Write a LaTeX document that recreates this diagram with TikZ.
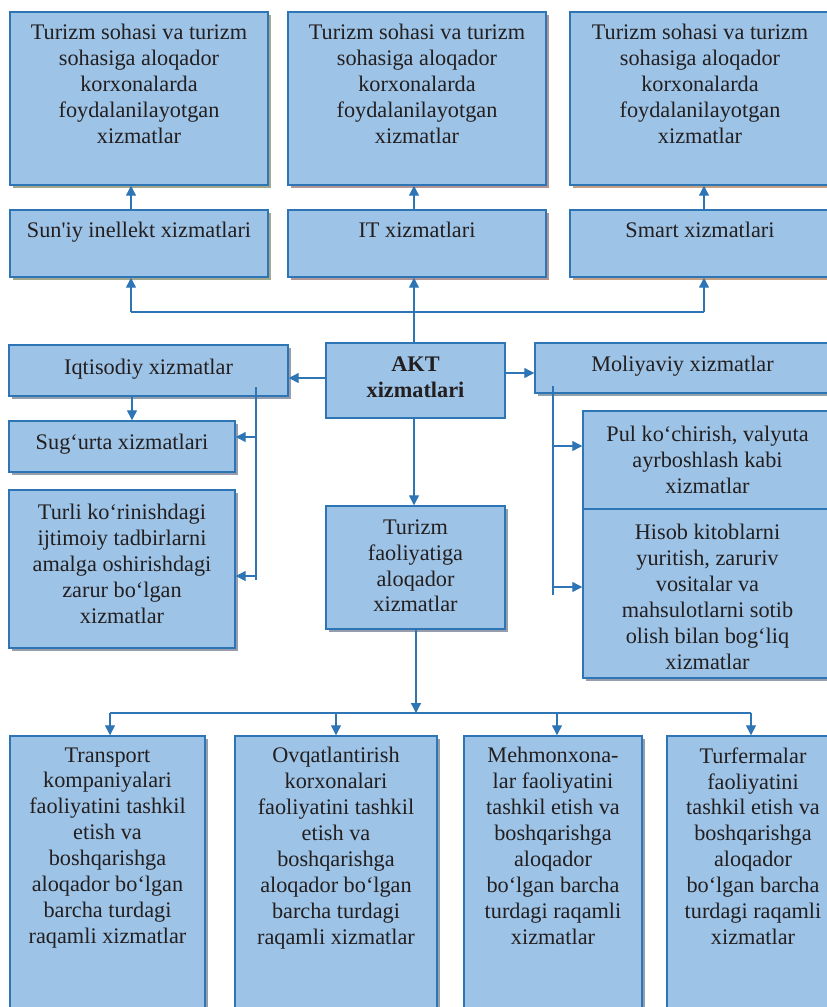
\documentclass[tikz,border=0pt]{standalone}
\usepackage{fontspec}
\setmainfont{Liberation Serif}[Ligatures=TeXOff]
\usetikzlibrary{arrows.meta,fit,shadows,calc}
\definecolor{boxfill}{HTML}{9DC3E6}
\definecolor{boxline}{HTML}{2E75B6}
\definecolor{txtc}{HTML}{231F20}
\definecolor{shOlive}{HTML}{A3A88C}
\definecolor{shRose}{HTML}{B39595}
\definecolor{shTan}{HTML}{C9A07F}
\definecolor{shGrey}{HTML}{969EAD}
\definecolor{shTeal}{HTML}{8FA3AD}
\tikzset{
  box/.style={draw=boxline, fill=boxfill, line width=1.1pt, inner sep=0pt, rectangle},
  sh/.style={general shadow={fill=#1, shadow xshift=2.4pt, shadow yshift=-2.6pt}},
  txt/.style={font=\fontsize{16.7pt}{19.4pt}\selectfont, text=txtc, align=center, inner sep=0pt, anchor=north},
  arr/.style={draw=boxline, line width=1pt, -{Triangle[length=7.5pt,width=7.5pt]}},
  ln/.style={draw=boxline, line width=1pt},
  thinln/.style={draw=boxline, line width=0.85pt},
}
\begin{document}
\begin{tikzpicture}[x=0.75pt,y=-0.75pt]
\useasboundingbox (0,0) rectangle (827,1007);
\clip (0,0) rectangle (827,1007);
% boxes
\node[box, sh=shOlive, fit={(10,12)(268,185)}] (b1) {};
\node[box, sh=shRose, fit={(288,12)(546,185)}] (b2) {};
\node[box, sh=shTan, fit={(570,12)(830,185)}] (b3) {};
\node[box, sh=shOlive, fit={(10,210)(268,277)}] (s1) {};
\node[box, sh=shRose, fit={(288,210)(546,277)}] (s2) {};
\node[box, sh=shTan, fit={(570,210)(830,277)}] (s3) {};
\node[box, fit={(326,343)(505,418)}] (akt) {};
\node[box, sh=shGrey, fit={(9,345)(288,396)}] (iqt) {};
\node[box, sh=shGrey, fit={(9,421)(235,472)}] (sug) {};
\node[box, sh=shGrey, fit={(9,490)(235,648)}] (turli) {};
\node[box, sh=shTeal, fit={(535,343)(830,393)}] (mol) {};
\node[box, sh=shGrey, fit={(583,411)(832,509)}] (pul) {};
\node[box, sh=shGrey, fit={(583,509)(832,678)}] (hisob) {};
\node[box, sh=shGrey, fit={(326,506)(505,629)}] (turf) {};
\node[box, sh=shGrey, fit={(10,736)(205,1015)}] (t1) {};
\node[box, sh=shGrey, fit={(235,736)(437,1015)}] (t2) {};
\node[box, sh=shGrey, fit={(464,736)(642,1015)}] (t3) {};
\node[box, sh=shGrey, fit={(667,736)(839,1015)}] (t4) {};
% texts
\node[txt] (b1t) at ($(b1.north)+(0,13)$) {Turizm sohasi va turizm\\sohasiga aloqador\\korxonalarda\\foydalanilayotgan\\xizmatlar};
\node[txt] (b2t) at ($(b2.north)+(0,13)$) {Turizm sohasi va turizm\\sohasiga aloqador\\korxonalarda\\foydalanilayotgan\\xizmatlar};
\node[txt] (b3t) at ($(b3.north)+(0,13)$) {Turizm sohasi va turizm\\sohasiga aloqador\\korxonalarda\\foydalanilayotgan\\xizmatlar};
\node[txt] (s1t) at ($(s1.north)+(0,13)$) {Sun'iy inellekt xizmatlari};
\node[txt] (s2t) at ($(s2.north)+(0,13)$) {IT xizmatlari};
\node[txt] (s3t) at ($(s3.north)+(0,13)$) {Smart xizmatlari};
\node[txt, font=\fontsize{16.7pt}{19.4pt}\selectfont\bfseries] (aktt) at ($(akt.north)+(0,14)$) {AKT\\xizmatlari};
\node[txt] (iqtt) at ($(iqt.north)+(0,15)$) {Iqtisodiy xizmatlar};
\node[txt] (sugt) at ($(sug.north)+(0,14)$) {Sug‘urta xizmatlari};
\node[txt] (turlit) at ($(turli.north)+(0,15)$) {Turli ko‘rinishdagi\\ijtimoiy tadbirlarni\\amalga oshirishdagi\\zarur bo‘lgan\\xizmatlar};
\node[txt] (molt) at ($(mol.north)+(0,14)$) {Moliyaviy xizmatlar};
\node[txt] (pult) at ($(pul.north)+(0,16)$) {Pul ko‘chirish, valyuta\\ayrboshlash kabi\\xizmatlar};
\node[txt] (hisobt) at ($(hisob.north)+(0,16)$) {Hisob kitoblarni\\yuritish, zaruriv\\vositalar va\\mahsulotlarni sotib\\olish bilan bog‘liq\\xizmatlar};
\node[txt] (turft) at ($(turf.north)+(0,14)$) {Turizm\\faoliyatiga\\aloqador\\xizmatlar};
\node[txt] (t1t) at ($(t1.north)+(0,12)$) {Transport\\kompaniyalari\\faoliyatini tashkil\\etish va\\boshqarishga\\aloqador bo‘lgan\\barcha turdagi\\raqamli xizmatlar};
\node[txt] (t2t) at ($(t2.north)+(0,12)$) {Ovqatlantirish\\korxonalari\\faoliyatini tashkil\\etish va\\boshqarishga\\aloqador bo‘lgan\\barcha turdagi\\raqamli xizmatlar};
\node[txt] (t3t) at ($(t3.north)+(0,12)$) {Mehmonxona-\\lar faoliyatini\\tashkil etish va\\boshqarishga\\aloqador\\bo‘lgan barcha\\turdagi raqamli\\xizmatlar};
\node[txt] (t4t) at ($(t4.north)+(0,12)$) {Turfermalar\\faoliyatini\\tashkil etish va\\boshqarishga\\aloqador\\bo‘lgan barcha\\turdagi raqamli\\xizmatlar};
% top connectors
\coordinate (h1) at (131,312);
\coordinate (h2) at (414,312);
\coordinate (h3) at (704,312);
\draw[ln] (h1) -- (h3);
\draw[arr] (h1) -- (h1 |- s1.south);
\draw[arr] (h3) -- (h3 |- s3.south);
\draw[arr] (akt.north -| h2) -- (h2 |- s2.south);
\draw[arr] (s1.north -| h1) -- (h1 |- b1.south);
\draw[arr] (s2.north -| h2) -- (h2 |- b2.south);
\draw[arr] (s3.north -| h3) -- (h3 |- b3.south);
% left side
\coordinate (a1) at (326,378);
\draw[arr] (akt.west |- a1) -- (a1 -| iqt.east);
\coordinate (iq) at (132,400);
\draw[arr] (iqt.south -| iq) -- (sug.north -| iq);
\coordinate (lt) at (256,387);
\coordinate (lb) at (256,580);
\draw[thinln] (lt) -- (lb);
\coordinate (l1) at (256,437);
\coordinate (l2) at (256,576);
\draw[arr] (l1) -- (l1 -| sug.east);
\draw[arr] (l2) -- (l2 -| turli.east);
% right side
\coordinate (m0) at (505,373);
\draw[arr] (akt.east |- m0) -- (m0 -| mol.west);
\coordinate (rt) at (553,386);
\coordinate (rb) at (553,595);
\draw[thinln] (rt) -- (rb);
\coordinate (r1) at (553,446);
\coordinate (r2) at (553,587);
\draw[arr] (r1) -- (r1 -| pul.west);
\draw[arr] (r2) -- (r2 -| hisob.west);
% bottom
\draw[arr] (akt.south -| h2) -- (turf.north -| h2);
\coordinate (d0) at (416,713);
\draw[arr] (turf.south -| d0) -- (d0);
\coordinate (d1) at (110,713);
\coordinate (d2) at (336,713);
\coordinate (d3) at (557,713);
\coordinate (d4) at (751,713);
\draw[ln] (d1) -- (d4);
\draw[arr] (d1) -- (d1 |- t1.north);
\draw[arr] (d2) -- (d2 |- t2.north);
\draw[arr] (d3) -- (d3 |- t3.north);
\draw[arr] (d4) -- (d4 |- t4.north);
\end{tikzpicture}
\end{document}
